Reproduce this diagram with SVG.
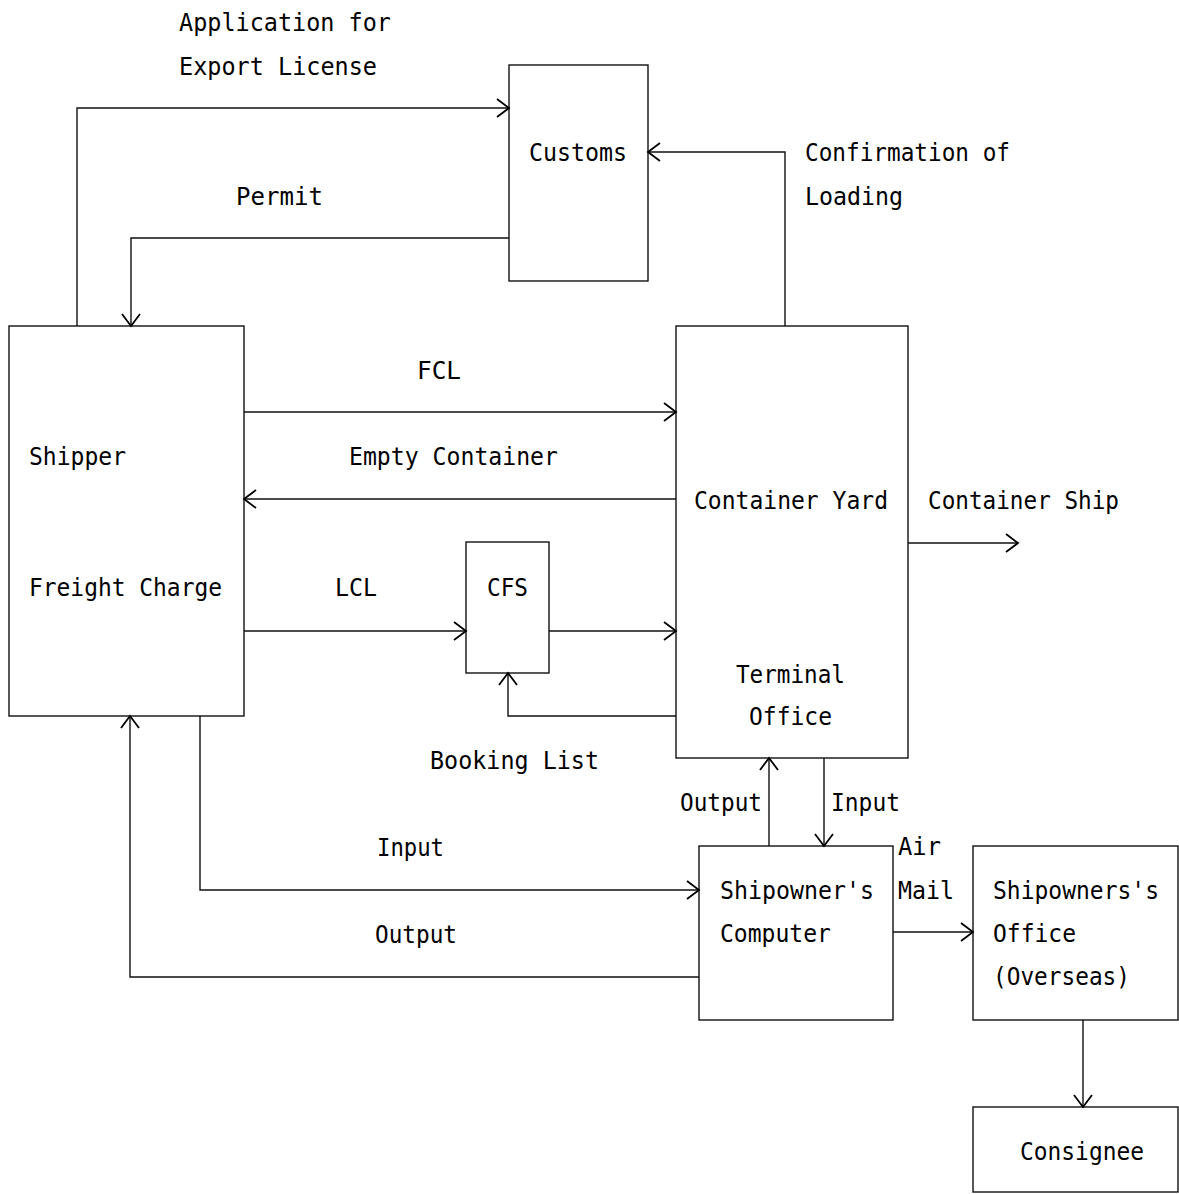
<svg xmlns="http://www.w3.org/2000/svg" width="1179" height="1194" viewBox="0 0 1179 1194">
<style>
  rect.box { fill: #fff; stroke: #111; stroke-width: 1.4; }
  .conn path { fill: none; stroke: #111; stroke-width: 1.4; marker-end: url(#ah); }
  text { font-family: "DejaVu Sans Mono", "Liberation Mono", monospace; font-size: 25px; fill: #000; }
</style>
<defs>
  <marker id="ah" viewBox="-14 -11 16 22" refX="0" refY="0" markerWidth="16" markerHeight="22" markerUnits="userSpaceOnUse" orient="auto">
    <path d="M-12,-9 L0,0 L-12,9" fill="none" stroke="#000" stroke-width="1.8"/>
  </marker>
</defs>
<rect width="1179" height="1194" fill="#fff"/>

<g id="customs">
  <rect class="box" x="509" y="65" width="139" height="216"/>
  <text x="529" y="161" textLength="98" lengthAdjust="spacingAndGlyphs">Customs</text>
</g>
<g id="shipper">
  <rect class="box" x="9" y="326" width="235" height="390"/>
  <text x="29" y="465" textLength="97" lengthAdjust="spacingAndGlyphs">Shipper</text>
  <text x="29" y="596" textLength="193" lengthAdjust="spacingAndGlyphs">Freight Charge</text>
</g>
<g id="cfs">
  <rect class="box" x="466" y="542" width="83" height="131"/>
  <text x="487" y="596" textLength="41" lengthAdjust="spacingAndGlyphs">CFS</text>
</g>
<g id="container-yard">
  <rect class="box" x="676" y="326" width="232" height="432"/>
  <text x="694" y="509" textLength="194" lengthAdjust="spacingAndGlyphs">Container Yard</text>
  <text x="736" y="683" textLength="109" lengthAdjust="spacingAndGlyphs">Terminal</text>
  <text x="749" y="725" textLength="83" lengthAdjust="spacingAndGlyphs">Office</text>
</g>
<g id="computer">
  <rect class="box" x="699" y="846" width="194" height="174"/>
  <text x="720" y="899" textLength="154" lengthAdjust="spacingAndGlyphs">Shipowner's</text>
  <text x="720" y="942" textLength="111" lengthAdjust="spacingAndGlyphs">Computer</text>
</g>
<g id="office">
  <rect class="box" x="973" y="846" width="205" height="174"/>
  <text x="993" y="899" textLength="166" lengthAdjust="spacingAndGlyphs">Shipowners's</text>
  <text x="993" y="942" textLength="83" lengthAdjust="spacingAndGlyphs">Office</text>
  <text x="993" y="985" textLength="137" lengthAdjust="spacingAndGlyphs">(Overseas)</text>
</g>
<g id="consignee">
  <rect class="box" x="973" y="1107" width="205" height="85"/>
  <text x="1020" y="1160" textLength="124" lengthAdjust="spacingAndGlyphs">Consignee</text>
</g>

<g class="conn" id="connectors">
  <path d="M77,326 V108 H509"/>
  <path d="M509,238 H131 V326"/>
  <path d="M785,326 V152 H648"/>
  <path d="M244,412 H676"/>
  <path d="M676,499 H244"/>
  <path d="M244,631 H466"/>
  <path d="M549,631 H676"/>
  <path d="M676,716 H508 V673"/>
  <path d="M908,543 H1018"/>
  <path d="M769,846 V758"/>
  <path d="M824,758 V846"/>
  <path d="M200,716 V890 H699"/>
  <path d="M699,977 H130 V716"/>
  <path d="M893,932 H973"/>
  <path d="M1083,1020 V1107"/>
</g>

<g id="labels">
  <text x="179" y="31" textLength="212" lengthAdjust="spacingAndGlyphs">Application for</text>
  <text x="179" y="75" textLength="198" lengthAdjust="spacingAndGlyphs">Export License</text>
  <text x="236" y="205" textLength="87" lengthAdjust="spacingAndGlyphs">Permit</text>
  <text x="805" y="161" textLength="205" lengthAdjust="spacingAndGlyphs">Confirmation of</text>
  <text x="805" y="205" textLength="98" lengthAdjust="spacingAndGlyphs">Loading</text>
  <text x="417" y="379" textLength="44" lengthAdjust="spacingAndGlyphs">FCL</text>
  <text x="349" y="465" textLength="209" lengthAdjust="spacingAndGlyphs">Empty Container</text>
  <text x="335" y="596" textLength="42" lengthAdjust="spacingAndGlyphs">LCL</text>
  <text x="928" y="509" textLength="191" lengthAdjust="spacingAndGlyphs">Container Ship</text>
  <text x="430" y="769" textLength="169" lengthAdjust="spacingAndGlyphs">Booking List</text>
  <text x="680" y="811" textLength="82" lengthAdjust="spacingAndGlyphs">Output</text>
  <text x="831" y="811" textLength="69" lengthAdjust="spacingAndGlyphs">Input</text>
  <text x="377" y="856" textLength="67" lengthAdjust="spacingAndGlyphs">Input</text>
  <text x="375" y="943" textLength="82" lengthAdjust="spacingAndGlyphs">Output</text>
  <text x="898" y="855" textLength="43" lengthAdjust="spacingAndGlyphs">Air</text>
  <text x="898" y="899" textLength="56" lengthAdjust="spacingAndGlyphs">Mail</text>
</g>
</svg>
